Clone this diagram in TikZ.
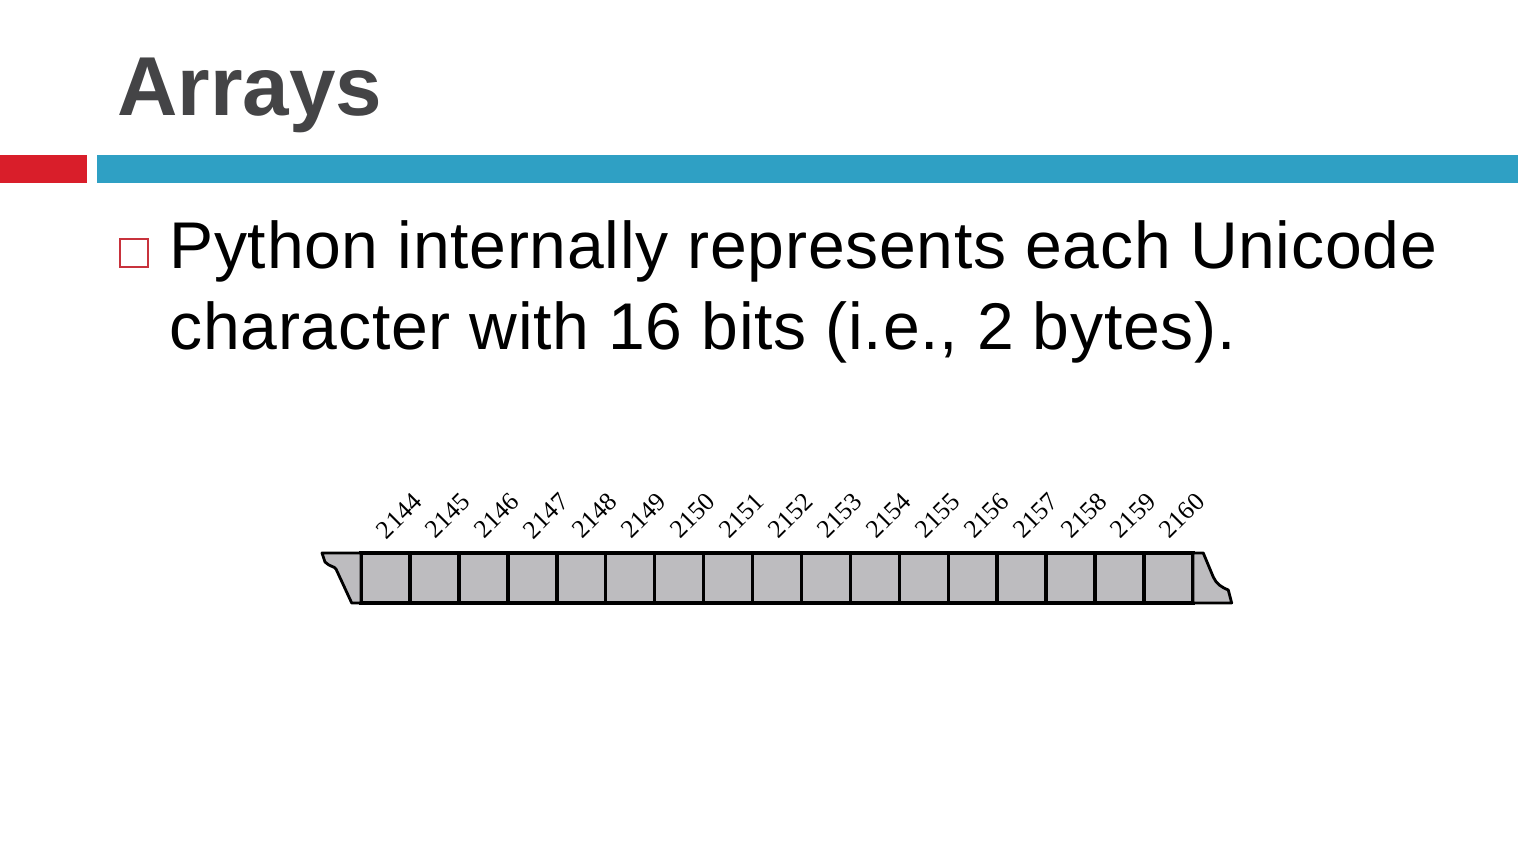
\documentclass[tikz,border=0pt]{standalone}
\usepackage{fontspec}
\setmainfont{Liberation Sans}
\newfontfamily\bodyfont[LetterSpace=1.1]{Liberation Sans}
\newfontfamily\numfont{Liberation Serif}
\usetikzlibrary{positioning,calc}
\definecolor{slidered}{HTML}{D91E2A}
\definecolor{slideblue}{HTML}{2FA0C4}
\definecolor{titlegray}{HTML}{444446}
\definecolor{cellgray}{HTML}{BDBCBF}
\definecolor{bulletred}{HTML}{C8323C}
\begin{document}
\begin{tikzpicture}[thick,
        cell/.style={draw, fill=cellgray, line width=1pt, minimum width=0.4894cm, minimum height=0.5cm, inner sep=0pt, outer sep=0pt},
        addr/.style={xshift=0.15mm, yshift=1.1mm, rotate=45, anchor=south west, inner sep=0pt, font=\numfont\fontsize{7.3}{8}\selectfont},
        torn/.style={draw, fill=cellgray, line width=0.8pt, line join=round}]
\useasboundingbox (0,0) rectangle (15.18,8.46);

\node[anchor=base west, inner sep=0pt, text=titlegray, font=\bfseries\fontsize{23.8}{28}\selectfont] (title) at (1.16,7.30) {Arrays};
\fill[slidered] (0,6.63) rectangle (0.87,6.91);
\fill[slideblue] (0.97,6.63) rectangle (15.18,6.91);

\node[draw=bulletred, line width=0.6pt, minimum size=0.28cm, inner sep=0pt] (bullet) at (1.338,5.927) {};
\node[anchor=base west, align=left, inner sep=0pt, font=\bodyfont\fontsize{18.8}{23.3}\selectfont] (text) at (1.68,4.96) {Python internally represents each Unicode\\character with 16 bits (i.e., 2 bytes).};

\node[cell, anchor=north west] (1) at (3.61,2.93) {};
\node[cell, anchor=north west] (2) at (1.north east) {};
\node[cell, anchor=north west] (3) at (2.north east) {};
\node[cell, anchor=north west] (4) at (3.north east) {};
\node[cell, anchor=north west] (5) at (4.north east) {};
\node[cell, anchor=north west] (6) at (5.north east) {};
\node[cell, anchor=north west] (7) at (6.north east) {};
\node[cell, anchor=north west] (8) at (7.north east) {};
\node[cell, anchor=north west] (9) at (8.north east) {};
\node[cell, anchor=north west] (10) at (9.north east) {};
\node[cell, anchor=north west] (11) at (10.north east) {};
\node[cell, anchor=north west] (12) at (11.north east) {};
\node[cell, anchor=north west] (13) at (12.north east) {};
\node[cell, anchor=north west] (14) at (13.north east) {};
\node[cell, anchor=north west] (15) at (14.north east) {};
\node[cell, anchor=north west] (16) at (15.north east) {};
\node[cell, anchor=north west] (17) at (16.north east) {};

\node[addr] (a1) at (1.north) {2144};
\node[addr] (a2) at (2.north) {2145};
\node[addr] (a3) at (3.north) {2146};
\node[addr] (a4) at (4.north) {2147};
\node[addr] (a5) at (5.north) {2148};
\node[addr] (a6) at (6.north) {2149};
\node[addr] (a7) at (7.north) {2150};
\node[addr] (a8) at (8.north) {2151};
\node[addr] (a9) at (9.north) {2152};
\node[addr] (a10) at (10.north) {2153};
\node[addr] (a11) at (11.north) {2154};
\node[addr] (a12) at (12.north) {2155};
\node[addr] (a13) at (13.north) {2156};
\node[addr] (a14) at (14.north) {2157};
\node[addr] (a15) at (15.north) {2158};
\node[addr] (a16) at (16.north) {2159};
\node[addr] (a17) at (17.north) {2160};

% torn ends of the memory strip
\draw[torn, shift={(1.north west)}] (0,0) -- (-0.39,0) -- (-0.36,-0.09) .. controls (-0.31,-0.14) and (-0.27,-0.13) .. (-0.25,-0.16) -- (-0.093,-0.5) -- (0,-0.5) -- cycle;
\draw[torn, shift={(17.north east)}] (0,0) -- (0.103,0) -- (0.203,-0.24) .. controls (0.23,-0.31) and (0.30,-0.35) .. (0.353,-0.37) -- (0.387,-0.5) -- (0,-0.5) -- cycle;

\end{tikzpicture}
\end{document}
